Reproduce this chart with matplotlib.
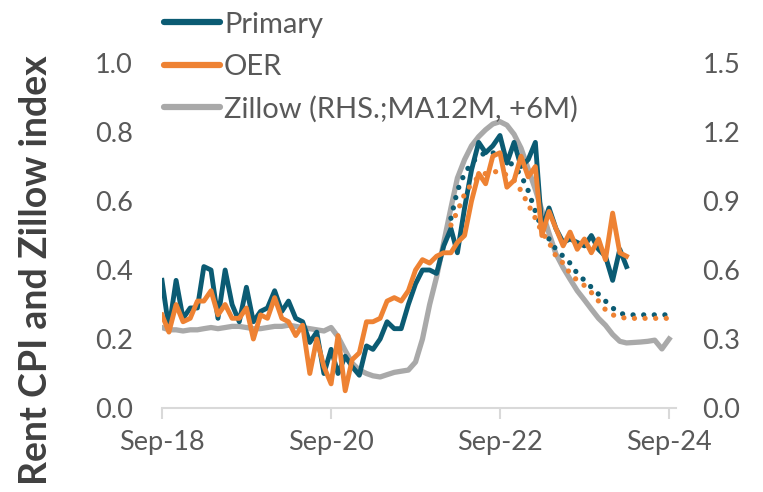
import pandas as pd
import matplotlib
matplotlib.use('Agg')
import matplotlib.pyplot as plt
import matplotlib.dates as mdates

plt.rcParams['font.family'] = ['Lato', 'DejaVu Sans']

# monthly, Sep-18 .. Sep-24
months = pd.date_range('2018-09-01', '2024-09-01', freq='MS')

# Rent CPI, m/m % (Sep-18 .. Mar-24)
primary = [0.37, 0.23, 0.37, 0.26, 0.29, 0.29, 0.41, 0.40, 0.26, 0.40,
           0.30, 0.25, 0.35, 0.25, 0.28, 0.29, 0.34, 0.28, 0.31, 0.26,
           0.25, 0.19, 0.22, 0.10, 0.17, 0.10, 0.15, 0.12, 0.095, 0.18,
           0.17, 0.20, 0.25, 0.23, 0.23, 0.30, 0.36, 0.40, 0.40, 0.39,
           0.47, 0.52, 0.45, 0.58, 0.69, 0.77, 0.74, 0.76, 0.79, 0.71,
           0.77, 0.70, 0.72, 0.77, 0.52, 0.58, 0.52, 0.48, 0.49, 0.48,
           0.47, 0.50, 0.46, 0.44, 0.37, 0.46, 0.41]
oer = [0.27, 0.22, 0.30, 0.25, 0.26, 0.31, 0.31, 0.34, 0.27, 0.30,
       0.26, 0.26, 0.29, 0.20, 0.27, 0.26, 0.32, 0.26, 0.25, 0.21,
       0.24, 0.10, 0.20, 0.12, 0.07, 0.21, 0.05, 0.14, 0.16, 0.25,
       0.25, 0.26, 0.31, 0.32, 0.31, 0.34, 0.40, 0.43, 0.42, 0.44,
       0.45, 0.45, 0.48, 0.50, 0.60, 0.68, 0.65, 0.73, 0.74, 0.64,
       0.66, 0.73, 0.67, 0.70, 0.50, 0.57, 0.52, 0.47, 0.51, 0.46,
       0.49, 0.45, 0.49, 0.43, 0.565, 0.45, 0.44]

# projections (Feb-22 .. Sep-24)
primary_proj = [0.55, 0.63, 0.68, 0.71, 0.73, 0.74, 0.74, 0.73, 0.72, 0.70,
                0.675, 0.63, 0.57, 0.52, 0.49, 0.46, 0.44, 0.42, 0.39, 0.37,
                0.35, 0.33, 0.31, 0.29, 0.275, 0.27, 0.27, 0.27, 0.27, 0.27,
                0.27, 0.27]
oer_proj = [0.53, 0.57, 0.62, 0.65, 0.67, 0.68, 0.685, 0.685, 0.675, 0.66,
            0.63, 0.59, 0.55, 0.51, 0.48, 0.44, 0.42, 0.39, 0.37, 0.355,
            0.335, 0.31, 0.285, 0.27, 0.264, 0.26, 0.26, 0.26, 0.26, 0.26,
            0.26, 0.26]

# Zillow, RHS (MA12M, shifted +6M)
zillow = [0.35, 0.34, 0.34, 0.335, 0.34, 0.34, 0.345, 0.35, 0.345, 0.35,
          0.355, 0.355, 0.35, 0.345, 0.345, 0.35, 0.355, 0.355, 0.36, 0.355,
          0.35, 0.345, 0.34, 0.335, 0.35, 0.31, 0.25, 0.195, 0.165, 0.15,
          0.14, 0.135, 0.145, 0.155, 0.16, 0.165, 0.20, 0.30, 0.45, 0.57,
          0.72, 0.87, 1.00, 1.08, 1.14, 1.18, 1.21, 1.235, 1.245, 1.23,
          1.19, 1.13, 1.04, 0.95, 0.86, 0.76, 0.67, 0.61, 0.56, 0.51,
          0.47, 0.43, 0.39, 0.36, 0.32, 0.29, 0.283, 0.285, 0.287, 0.29,
          0.295, 0.257, 0.30]

teal = '#0B5B73'
orange = '#EE8233'
grey = '#A9A9A9'
txt = '#595959'

fig = plt.figure(figsize=(7.63, 4.92), dpi=100)
ax = fig.add_axes([0.2123, 0.1707, 0.6737, 0.7012])
ax2 = ax.twinx()

n = len(primary)
l1, = ax.plot(months[:n], primary, color=teal, lw=3.5, solid_joinstyle='round', zorder=3)
l2, = ax.plot(months[:n], oer, color=orange, lw=3.5, solid_joinstyle='round', zorder=4)
ax.plot(months[-len(primary_proj):], primary_proj, color=teal, lw=3.8,
        ls=(0, (0.01, 2.0)), dash_capstyle='round', zorder=3)
ax.plot(months[-len(oer_proj):], oer_proj, color=orange, lw=3.8,
        ls=(0, (0.01, 2.0)), dash_capstyle='round', zorder=4)
l3, = ax2.plot(months, zillow, color=grey, lw=3.8, solid_joinstyle='round')
ax.set_zorder(ax2.get_zorder() + 1)
ax.patch.set_visible(False)

ax.set_ylim(0, 1.0)
ax2.set_ylim(0, 1.5)
ax.set_xlim(months[0], pd.Timestamp('2024-10-01'))
ax.set_yticks([0, 0.2, 0.4, 0.6, 0.8, 1.0])
ax2.set_yticks([0, 0.3, 0.6, 0.9, 1.2, 1.5])
ax.yaxis.set_major_formatter(matplotlib.ticker.FormatStrFormatter('%.1f'))
ax2.yaxis.set_major_formatter(matplotlib.ticker.FormatStrFormatter('%.1f'))

ticks = [pd.Timestamp('2018-09-01'), pd.Timestamp('2020-09-01'),
         pd.Timestamp('2022-09-01'), pd.Timestamp('2024-09-01')]
ax.set_xticks(ticks)
ax.xaxis.set_major_formatter(mdates.DateFormatter('%b-%y'))

for a in (ax, ax2):
    for s in a.spines.values():
        s.set_visible(False)
ax.spines['bottom'].set_visible(True)
ax.spines['bottom'].set_color('#D9D9D9')
ax.spines['bottom'].set_linewidth(1.5)

ax.tick_params(axis='x', colors='#D9D9D9', width=1.5, length=8, pad=8,
               labelcolor=txt, labelsize=19.5)
ax.tick_params(axis='y', length=0, pad=21, labelcolor=txt, labelsize=19.5)
ax2.tick_params(axis='y', length=0, pad=19, labelcolor=txt, labelsize=19.5)

ax.set_ylabel('Rent CPI and Zillow index', fontsize=27, fontweight='bold',
              color='#404040')
ax.yaxis.set_label_coords(-0.212, 0.40)

leg = fig.legend([l1, l2, l3], ['Primary', 'OER', 'Zillow (RHS.;MA12M, +6M)'],
                 loc='upper left', bbox_to_anchor=(0.2, 1.0), frameon=False,
                 fontsize=21, handlelength=1.9, handletextpad=0.15,
                 labelspacing=0.55, borderaxespad=0)
for t in leg.get_texts():
    t.set_color(txt)
for h in leg.get_lines():
    h.set_linewidth(4.5)
    h.set_solid_capstyle('round')

fig.savefig('out.png', dpi=100)
